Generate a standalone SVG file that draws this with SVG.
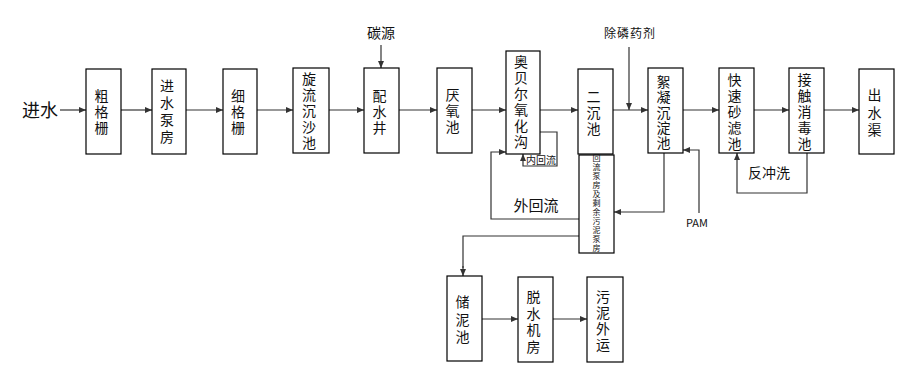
<svg xmlns="http://www.w3.org/2000/svg" width="924" height="386" viewBox="0 0 924 386">
<defs>
<marker id="ah" markerWidth="7" markerHeight="6" refX="7" refY="3" orient="auto" markerUnits="userSpaceOnUse">
<path d="M0,0 L7,3 L0,6 Z" fill="#333"/>
</marker>
<style>
.box{fill:#fff;stroke:#000;stroke-width:1.2}
.t{font-family:"Noto Sans CJK SC","Liberation Serif",sans-serif;font-size:14px;fill:#111;text-anchor:middle}
.s{font-family:"Noto Sans CJK SC",sans-serif;font-size:8px;fill:#111;text-anchor:middle}
.lbl{font-family:"Noto Sans CJK SC","Liberation Sans",sans-serif;fill:#111;text-anchor:middle}
.c{fill:none;stroke:#333;stroke-width:1.2}
.ca{fill:none;stroke:#333;stroke-width:1.2;marker-end:url(#ah)}
</style>
</defs>
<rect width="924" height="386" fill="#fff"/>

<g id="connectors">
<line class="ca" x1="60" y1="110" x2="86" y2="110"/>
<line class="ca" x1="121" y1="110" x2="152" y2="110"/>
<line class="ca" x1="186" y1="110" x2="223" y2="110"/>
<line class="ca" x1="257" y1="110" x2="293" y2="110"/>
<line class="ca" x1="329" y1="110" x2="364" y2="110"/>
<line class="ca" x1="399" y1="110" x2="437" y2="110"/>
<line class="ca" x1="472" y1="110" x2="506" y2="110"/>
<line class="ca" x1="540" y1="110" x2="578" y2="110"/>
<line class="ca" x1="613" y1="110" x2="648" y2="110"/>
<line class="ca" x1="683" y1="110" x2="719" y2="110"/>
<line class="ca" x1="754" y1="110" x2="789" y2="110"/>
<line class="ca" x1="824" y1="110" x2="859" y2="110"/>
<line class="ca" x1="381" y1="45" x2="381" y2="68"/>
<line class="ca" x1="629" y1="47" x2="629" y2="110"/>
<polyline class="ca" points="540,132 557,132 557,166 523,166 523,154"/>
<polyline class="ca" points="579,219 491,219 491,152 506,152"/>
<polyline class="c" points="579,236 463,236 463,268"/>
<line class="ca" x1="463" y1="266" x2="463" y2="276"/>
<polyline class="ca" points="664,153 664,212 614,212"/>
<polyline class="ca" points="699,213 699,150 683,150"/>
<polyline class="ca" points="807,153 807,193 737,193 737,153"/>
<line class="ca" x1="482" y1="319" x2="518" y2="319"/>
<line class="ca" x1="553" y1="319" x2="587" y2="319"/>
</g>

<g id="labels">
<text class="lbl" x="40" y="117" font-size="18">进水</text>
<text class="lbl" x="381" y="38" font-size="14">碳源</text>
<text class="lbl" x="630" y="38" font-size="12" letter-spacing="1">除磷药剂</text>
<text class="lbl" x="541" y="164" font-size="10">内回流</text>
<text class="lbl" x="536" y="211" font-size="15">外回流</text>
<text class="lbl" x="769" y="178" font-size="14">反冲洗</text>
<text class="lbl" x="697" y="227" font-size="11" font-family="Liberation Sans, sans-serif">PAM</text>
</g>

<g id="n1"><rect class="box" x="86" y="69" width="35" height="85"/>
<text class="t"><tspan x="101.5" y="100.5">粗</tspan><tspan x="101.5" y="116.5">格</tspan><tspan x="101.5" y="132.5">栅</tspan></text></g>
<g id="n2"><rect class="box" x="152" y="69" width="34" height="85"/>
<text class="t"><tspan x="167" y="91">进</tspan><tspan x="167" y="108">水</tspan><tspan x="167" y="125">泵</tspan><tspan x="167" y="142">房</tspan></text></g>
<g id="n3"><rect class="box" x="223" y="69" width="34" height="85"/>
<text class="t"><tspan x="238" y="100.5">细</tspan><tspan x="238" y="116.5">格</tspan><tspan x="238" y="132.5">栅</tspan></text></g>
<g id="n4"><rect class="box" x="293" y="68" width="36" height="85"/>
<text class="t"><tspan x="309" y="84">旋</tspan><tspan x="309" y="100">流</tspan><tspan x="309" y="116">沉</tspan><tspan x="309" y="132">沙</tspan><tspan x="309" y="148">池</tspan></text></g>
<g id="n5"><rect class="box" x="364" y="68" width="35" height="85"/>
<text class="t"><tspan x="379.5" y="101">配</tspan><tspan x="379.5" y="117">水</tspan><tspan x="379.5" y="133">井</tspan></text></g>
<g id="n6"><rect class="box" x="437" y="68" width="35" height="85"/>
<text class="t"><tspan x="452.5" y="100">厌</tspan><tspan x="452.5" y="116">氧</tspan><tspan x="452.5" y="132">池</tspan></text></g>
<g id="n7"><rect class="box" x="506" y="51" width="34" height="103"/>
<text class="t"><tspan x="521" y="67">奥</tspan><tspan x="521" y="83">贝</tspan><tspan x="521" y="99">尔</tspan><tspan x="521" y="115">氧</tspan><tspan x="521" y="131">化</tspan><tspan x="521" y="147">沟</tspan></text></g>
<g id="n8"><rect class="box" x="578" y="69" width="35" height="85"/>
<text class="t"><tspan x="593.5" y="102">二</tspan><tspan x="593.5" y="118">沉</tspan><tspan x="593.5" y="134">池</tspan></text></g>
<g id="n9"><rect class="box" x="579" y="155" width="35" height="98"/>
<text class="s"><tspan x="596.5" y="161">回</tspan><tspan x="596.5" y="170">流</tspan><tspan x="596.5" y="179">泵</tspan><tspan x="596.5" y="188">房</tspan><tspan x="596.5" y="197">及</tspan><tspan x="596.5" y="206">剩</tspan><tspan x="596.5" y="215">余</tspan><tspan x="596.5" y="224">污</tspan><tspan x="596.5" y="233">泥</tspan><tspan x="596.5" y="242">泵</tspan><tspan x="596.5" y="251">房</tspan></text></g>
<g id="n10"><rect class="box" x="648" y="68" width="35" height="85"/>
<text class="t"><tspan x="663.5" y="87">絮</tspan><tspan x="663.5" y="102">凝</tspan><tspan x="663.5" y="117.5">沉</tspan><tspan x="663.5" y="133">淀</tspan><tspan x="663.5" y="148">池</tspan></text></g>
<g id="n11"><rect class="box" x="719" y="68" width="35" height="85"/>
<text class="t"><tspan x="734.5" y="85">快</tspan><tspan x="734.5" y="101">速</tspan><tspan x="734.5" y="117">砂</tspan><tspan x="734.5" y="133">滤</tspan><tspan x="734.5" y="149">池</tspan></text></g>
<g id="n12"><rect class="box" x="789" y="68" width="35" height="85"/>
<text class="t"><tspan x="804.5" y="85">接</tspan><tspan x="804.5" y="101">触</tspan><tspan x="804.5" y="117">消</tspan><tspan x="804.5" y="133">毒</tspan><tspan x="804.5" y="149">池</tspan></text></g>
<g id="n13"><rect class="box" x="859" y="69" width="35" height="85"/>
<text class="t"><tspan x="874.5" y="100">出</tspan><tspan x="874.5" y="117.5">水</tspan><tspan x="874.5" y="135">渠</tspan></text></g>
<g id="n14"><rect class="box" x="447" y="276" width="35" height="85"/>
<text class="t"><tspan x="462.5" y="307">储</tspan><tspan x="462.5" y="324.5">泥</tspan><tspan x="462.5" y="342">池</tspan></text></g>
<g id="n15"><rect class="box" x="518" y="277" width="35" height="85"/>
<text class="t"><tspan x="533.5" y="302">脱</tspan><tspan x="533.5" y="318.7">水</tspan><tspan x="533.5" y="335.3">机</tspan><tspan x="533.5" y="352">房</tspan></text></g>
<g id="n16"><rect class="box" x="587" y="277" width="36" height="85"/>
<text class="t"><tspan x="603" y="302">污</tspan><tspan x="603" y="318">泥</tspan><tspan x="603" y="334">外</tspan><tspan x="603" y="350">运</tspan></text></g>
</svg>
